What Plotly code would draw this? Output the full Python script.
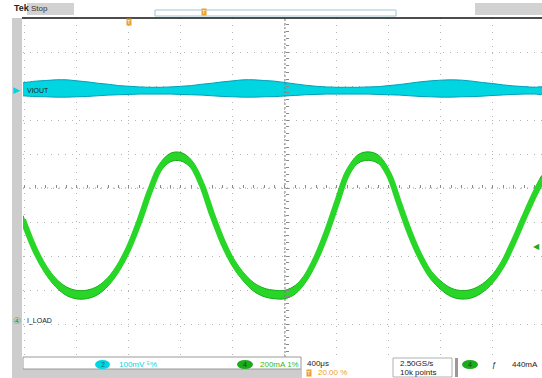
import plotly.graph_objects as go

# ---------------- data ----------------
# time in microseconds relative to screen centre (400 us/div)
T_US = [-2015, -2000, -1920, -1840, -1760, -1680, -1600, -1520, -1440, -1360,
        -1280, -1200, -1120, -1040, -960, -880, -800, -720, -640, -560,
        -480, -400, -320, -240, -160, -80, 0, 80, 160, 240,
        320, 400, 480, 560, 640, 720, 800, 880, 960, 1040,
        1120, 1200, 1280, 1360, 1440, 1520, 1600, 1680, 1760, 1840,
        1920, 1977]
# I_LOAD centre of trace, mA (200 mA/div)
I_LOAD_MA = [595, 564, 414, 302, 223, 175, 155, 157, 180, 232,
             315, 433, 587, 762, 903, 962, 966, 922, 802, 625,
             468, 345, 260, 200, 168, 156, 156, 185, 255, 370,
             520, 697, 868, 952, 970, 950, 860, 688, 519, 379,
             273, 209, 168, 154, 162, 194, 251, 341, 469, 610,
             745, 830]
I_LOAD_NOISE_PP = 50  # mA, peak-to-peak thickness of trace
# VIOUT ripple envelope, mV (100 mV/div)
VIOUT_UPPER_MV = [21, 22, 26, 28, 30, 30, 27, 24, 20, 17,
                  13, 11, 9, 8, 8, 9, 11, 13, 17, 20,
                  24, 27, 30, 30, 28, 26, 22, 18, 14, 11,
                  9, 8, 8, 8, 9, 10, 13, 16, 20, 24,
                  27, 29, 30, 29, 26, 22, 19, 15, 12, 10,
                  8, 8]
VIOUT_LOWER_MV = [-17, -17.5, -19.5, -20, -21, -21, -20, -19, -17, -15,
                  -14, -13, -12, -12, -12, -12, -13, -14, -15, -17,
                  -19, -20, -21, -21, -20, -19.5, -17.5, -16, -14, -13,
                  -12, -12, -12, -12, -12, -13, -14, -15, -17, -19,
                  -20, -21, -21, -20, -19.5, -18, -16, -14.5, -13, -12,
                  -12, -12]
TRIG_LEVEL_MA = 440
TRIG_POS_US = -1200

# ---------------- layout geometry (pixels) ----------------
W, H = 542, 378
L, R, TOP, BOT = 23, 542, 18, 357
def px(x):
    return (x - L) / (R - L)
def py(y):
    return (BOT - y) / (BOT - TOP)

X_RANGE = [-2015, 1977]
Y_MA_RANGE = [-211.8, 1782.4]
Y_MV_RANGE = [-785.3, 211.8]
CENTER_MA = 782.35

CYAN = "rgb(0,214,226)"
CYAN_D = "rgb(0,160,185)"
GREEN = "rgb(40,214,40)"
GREEN_D = "rgb(20,170,20)"
FONT = "Liberation Sans Narrow, Liberation Sans, Arial"

fig = go.Figure()

# VIOUT band
fig.add_trace(go.Scatter(
    x=T_US + T_US[::-1], y=VIOUT_UPPER_MV + VIOUT_LOWER_MV[::-1],
    fill="toself", fillcolor=CYAN, line=dict(color=CYAN_D, width=1, shape="spline"),
    mode="lines", yaxis="y2", hoverinfo="skip", showlegend=False))

# I_LOAD band
up = [v + I_LOAD_NOISE_PP / 2 for v in I_LOAD_MA]
lo = [v - I_LOAD_NOISE_PP / 2 for v in I_LOAD_MA]
fig.add_trace(go.Scatter(
    x=T_US + T_US[::-1], y=up + lo[::-1], fill="toself", fillcolor=GREEN,
    line=dict(color=GREEN_D, width=1, shape="spline"), mode="lines",
    hoverinfo="skip", showlegend=False))
fig.add_trace(go.Scatter(
    x=T_US, y=I_LOAD_MA, mode="lines",
    line=dict(color=GREEN, width=6, shape="spline"),
    hoverinfo="skip", showlegend=False))

# dummy trace for centre tick axes
fig.add_trace(go.Scatter(x=[None], y=[None], xaxis="x2", yaxis="y3", showlegend=False))

grid = dict(showgrid=True, gridcolor="#b4b4b4", griddash="1px,6px", gridwidth=1,
            zeroline=False, showticklabels=False, ticks="", showline=False)

fig.update_layout(
    width=W, height=H, margin=dict(l=L, r=W - R, t=TOP, b=H - BOT),
    paper_bgcolor="white", plot_bgcolor="white", showlegend=False,
    font=dict(family=FONT, size=8, color="#222"),
    xaxis=dict(range=X_RANGE, tick0=0, dtick=400, **grid),
    yaxis=dict(range=Y_MA_RANGE, tick0=CENTER_MA, dtick=200, **grid),
    yaxis2=dict(range=Y_MV_RANGE, overlaying="y", visible=False),
    xaxis2=dict(range=X_RANGE, overlaying="x", anchor="free", position=py(188),
                tick0=0, dtick=80, ticks="inside", ticklen=3, tickcolor="#8a8a8a",
                showticklabels=False, showgrid=False, zeroline=False, showline=False),
    yaxis3=dict(range=Y_MA_RANGE, overlaying="y", anchor="free", position=px(285),
                tick0=CENTER_MA, dtick=40, ticks="inside", ticklen=3, tickcolor="#8a8a8a",
                showticklabels=False, showgrid=False, zeroline=False, showline=False),
)

shapes = []
# centre cross
shapes.append(dict(type="line", xref="x", yref="paper", x0=0, x1=0, y0=0, y1=1,
                   line=dict(color="#7a7a7a", width=1, dash="2px,2px")))
shapes.append(dict(type="line", xref="paper", yref="y", x0=0, x1=1, y0=CENTER_MA, y1=CENTER_MA,
                   line=dict(color="#9a9a9a", width=1, dash="1px,5px")))
# left grey strip
shapes.append(dict(type="rect", xref="paper", yref="paper", x0=px(12), x1=px(22), y0=py(378), y1=py(18),
                   fillcolor="#cdcdcd", line=dict(width=0), layer="below"))
# top bar
shapes.append(dict(type="line", xref="paper", yref="paper", x0=px(22), x1=px(542), y0=py(18), y1=py(18),
                   line=dict(color="#111", width=1.5)))
shapes.append(dict(type="rect", xref="paper", yref="paper", x0=px(27), x1=px(74), y0=py(15), y1=py(3),
                   fillcolor="#d2d2d2", line=dict(width=0)))
shapes.append(dict(type="rect", xref="paper", yref="paper", x0=px(155), x1=px(396), y0=py(16), y1=py(10),
                   fillcolor="rgba(0,0,0,0)", line=dict(color="#9cc8d4", width=1)))
shapes.append(dict(type="rect", xref="paper", yref="paper", x0=px(475), x1=px(542), y0=py(15), y1=py(3),
                   fillcolor="#d2d2d2", line=dict(width=0)))
# bottom status bar
shapes.append(dict(type="rect", xref="paper", yref="paper", x0=px(12), x1=px(302), y0=py(378), y1=py(369),
                   fillcolor="#cdcdcd", line=dict(width=0)))
shapes.append(dict(type="rect", xref="paper", yref="paper", x0=px(23), x1=px(301), y0=py(369), y1=py(357),
                   fillcolor="white", line=dict(color="#9a9a9a", width=1)))
shapes.append(dict(type="rect", xref="paper", yref="paper", x0=px(393), x1=px(452), y0=py(377), y1=py(358),
                   fillcolor="white", line=dict(color="#b0b0b0", width=1)))
shapes.append(dict(type="rect", xref="paper", yref="paper", x0=px(455), x1=px(458), y0=py(377), y1=py(358),
                   fillcolor="#999", line=dict(width=0)))
# channel badges
shapes.append(dict(type="circle", xref="paper", yref="paper", x0=px(95), x1=px(110), y0=py(369), y1=py(360),
                   fillcolor=CYAN, line=dict(width=0)))
shapes.append(dict(type="circle", xref="paper", yref="paper", x0=px(237), x1=px(253), y0=py(369), y1=py(360),
                   fillcolor="rgb(30,170,30)", line=dict(width=0)))
shapes.append(dict(type="circle", xref="paper", yref="paper", x0=px(462), x1=px(478), y0=py(369), y1=py(360),
                   fillcolor="rgb(30,170,30)", line=dict(width=0)))
fig.update_layout(shapes=shapes)

ann = []
def txt(x, y, s, color="#222", size=8, xanchor="left", bold=False, bg=None, xref="paper", yref="paper"):
    d = dict(x=x, y=y, xref=xref, yref=yref, text=("<b>%s</b>" % s) if bold else s,
             showarrow=False, xanchor=xanchor, yanchor="middle",
             font=dict(size=size, color=color, family=FONT))
    if bg:
        d["bgcolor"] = bg
        d["borderpad"] = 0
    ann.append(d)

txt(px(12), py(8), "Tek", bold=True, size=9)
txt(px(29), py(9), "Stop", color="#333", size=8)
txt(px(204), py(12), "T", color="white", size=6, xanchor="center", bg="rgb(235,160,40)")
txt(TRIG_POS_US, py(22), "T", color="white", size=6, xanchor="center", bg="rgb(235,160,40)", xref="x")
# channel ground markers
txt(px(11), 0, "▶", color=CYAN, size=9, yref="y2")
txt(px(25), 0, "VIOUT", color="#222", size=7, yref="y2")
txt(px(11), 0, "④", color="rgb(30,170,30)", size=9, yref="y")
txt(px(25), 0, "I_LOAD", color="#222", size=7, yref="y")
# trigger level marker
txt(px(542), TRIG_LEVEL_MA, "◀", color="rgb(30,170,30)", size=8, xanchor="right", yref="y")
# status bar
txt(px(102.5), py(364.5), "2", color="#0a6f7a", size=7, xanchor="center")
txt(px(117), py(364), "100mV ⁵%", color=CYAN, size=8)
txt(px(245), py(364.5), "4", color="#0a4a0a", size=7, xanchor="center")
txt(px(258), py(364), "200mA 1%", color="rgb(40,190,40)", size=8)
txt(px(305), py(363), "400μs", color="#222", size=8)
txt(px(306), py(372.5), "T", color="white", size=6, bg="rgb(235,160,40)")
txt(px(316), py(372.5), "20.00 %", color="rgb(235,160,40)", size=8)
txt(px(398), py(363), "2.50GS/s", color="#222", size=8)
txt(px(398), py(372.5), "10k points", color="#222", size=8)
txt(px(470), py(364.5), "4", color="#0a4a0a", size=7, xanchor="center")
txt(px(490), py(364), "ƒ", color="#222", size=8)
txt(px(510), py(364), "440mA", color="#222", size=8)
fig.update_layout(annotations=ann)

fig.write_html("out.html", config={"displayModeBar": False},
               post_script="document.body.style.margin='0';document.body.style.overflow='hidden';")
